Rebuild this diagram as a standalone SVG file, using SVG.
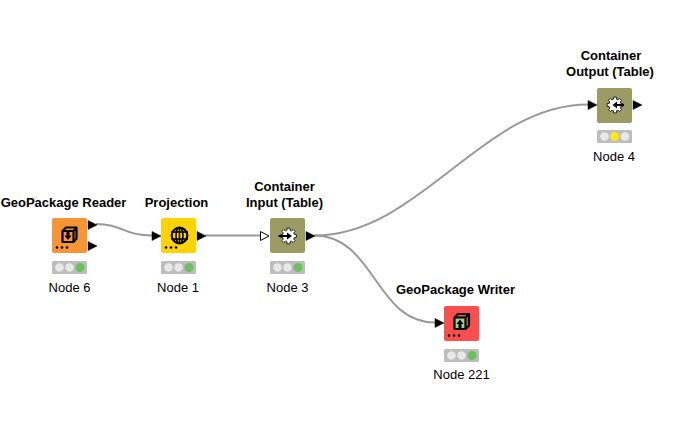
<svg xmlns="http://www.w3.org/2000/svg" width="690" height="425" viewBox="0 0 690 425">
<style>
text{font-family:"Liberation Sans",Arial,sans-serif;font-size:13px;fill:#000;text-anchor:middle}
.t{font-weight:bold}
.box{stroke:none}
.wire{fill:none;stroke:#999;stroke-width:2}
.port{fill:#000;stroke:#000;stroke-width:.5}
.light{fill:#bdbdbd}
.off{fill:#e8e8e8}
.on{fill:#6cc05f}
.warn{fill:#f8e71c}
.ic{fill:none;stroke:#000;stroke-width:2.200;stroke-linejoin:round}
</style>
<defs>
<g id="dots"><circle cx="5" cy="29.500" r="1.300"/><circle cx="10" cy="29.500" r="1.300"/><circle cx="15" cy="29.500" r="1.300"/></g>
<g id="status-g"><rect class="light" x="0" y="0" width="35" height="13" rx="1.500"/><circle class="off" cx="7.500" cy="6.500" r="4.300"/><circle class="off" cx="17.500" cy="6.500" r="4.300"/><circle class="on" cx="28" cy="6.500" r="4.500"/></g>
<path id="pt" d="M0-4.500L9 0L0 4.500Z"/>
<path id="gear" d="M7.900-1.400L7.900 1.400L5.800 1.550L5.200 3L6.550 4.590L4.590 6.550L3 5.200L1.550 5.800L1.400 7.900L-1.400 7.900L-1.550 5.800L-3 5.200L-4.590 6.550L-6.550 4.590L-5.200 3L-5.800 1.550L-7.900 1.400L-7.900-1.400L-5.800-1.550L-5.200-3L-6.550-4.590L-4.590-6.550L-3-5.200L-1.550-5.800L-1.400-7.900L1.400-7.900L1.550-5.800L3-5.200L4.590-6.550L6.550-4.590L5.200-3L5.800-1.550Z"/>
</defs>
<g id="connectors">
<path class="wire" d="M96 224C122 224 124 235.500 152 235.500"/>
<path class="wire" d="M205 235.500L260 235.500"/>
<path class="wire" d="M314 235.500C420 235.500 482 104.500 588 104.500"/>
<path class="wire" d="M314 235.500C375 235.500 375 322.500 435 322.500"/>
</g>
<g id="node6">
<text class="t" x="63.500" y="207">GeoPackage Reader</text>
<rect class="box" x="52" y="218" width="35" height="35" rx="2" fill="#f79433"/>
<path class="ic" d="M62.500 231h11v11h-11zM62.500 231l3.500-3.500h10.500v11l-3 3.500M73.500 231l3-3.500"/>
<path d="M66.500 232h3v3.500h2L68 240l-3.500-4.500h2z"/>
<use href="#dots" x="52" y="218"/>
<use class="port" href="#pt" x="88" y="225"/>
<use class="port" href="#pt" x="88" y="246"/>
<use href="#status-g" x="52" y="261"/>
<text x="69.500" y="292">Node 6</text>
</g>
<g id="node1">
<text class="t" x="176.500" y="207">Projection</text>
<rect class="box" x="161" y="218" width="35" height="35" rx="2" fill="#ffd200"/>
<circle class="ic" cx="179.500" cy="235.500" r="7.800"/>
<ellipse class="ic" style="stroke-width:1.600" cx="179.500" cy="235.500" rx="3.500" ry="8"/>
<path class="ic" style="stroke-width:1.600" d="M179.500 227v17M171 232h17M171 239h17"/>
<use href="#dots" x="161" y="218"/>
<use class="port" href="#pt" x="152" y="236"/>
<use class="port" href="#pt" x="197" y="236"/>
<use href="#status-g" x="161" y="261"/>
<text x="178" y="292">Node 1</text>
</g>
<g id="node3">
<text class="t" x="284.500" y="191">Container</text>
<text class="t" x="284.500" y="207">Input (Table)</text>
<rect class="box" x="270" y="218" width="35" height="35" rx="2" fill="#9b9b63"/>
<use href="#gear" x="288.500" y="236" fill="#fff" stroke="#222" stroke-width="1"/>
<path d="M278.500 235h8.500v-2.500l5 3.500-5 3.500v-2.500h-8.500z"/>
<path d="M260.500 231.500L269 236L260.500 240.500Z" fill="#fff" stroke="#000" stroke-width="1"/>
<use class="port" href="#pt" x="306" y="236"/>
<use href="#status-g" x="270" y="261"/>
<text x="287.500" y="292">Node 3</text>
</g>
<g id="node4">
<text class="t" x="611" y="60">Container</text>
<text class="t" x="610" y="76">Output (Table)</text>
<rect class="box" x="597" y="88" width="35" height="35" rx="2" fill="#9b9b63"/>
<use href="#gear" x="615" y="105" fill="#fff" stroke="#222" stroke-width="1"/>
<path d="M617 104h7v2h-7v2.500l-4.500-3.500 4.500-3.500z"/>
<use class="port" href="#pt" x="588" y="105"/>
<use class="port" href="#pt" x="633" y="105"/>
<rect class="light" x="597" y="130" width="35" height="13" rx="1.500"/>
<circle class="off" cx="604.500" cy="136.500" r="4.300"/><circle class="warn" cx="614.500" cy="136.500" r="4.500"/><circle class="off" cx="625" cy="136.500" r="4.300"/>
<text x="614" y="161">Node 4</text>
</g>
<g id="node221">
<text class="t" x="455.500" y="294">GeoPackage Writer</text>
<rect class="box" x="444" y="306" width="35" height="35" rx="2" fill="#fb4f4f"/>
<path d="M455 318h11v12h-11z" fill="#9bd08e"/>
<path class="ic" d="M454.500 317.500h11v11.500h-11zM454.500 317.500l3.500-3.500h11v11.500l-3.500 3.500M465.500 317.500l3.500-3.500"/>
<path d="M458.500 328h3v-4h2L460 319.500l-3.500 4.500h2z"/>
<use href="#dots" x="444" y="306"/>
<use class="port" href="#pt" x="435" y="323"/>
<use href="#status-g" x="444" y="349"/>
<text x="461.500" y="379">Node 221</text>
</g>
</svg>
